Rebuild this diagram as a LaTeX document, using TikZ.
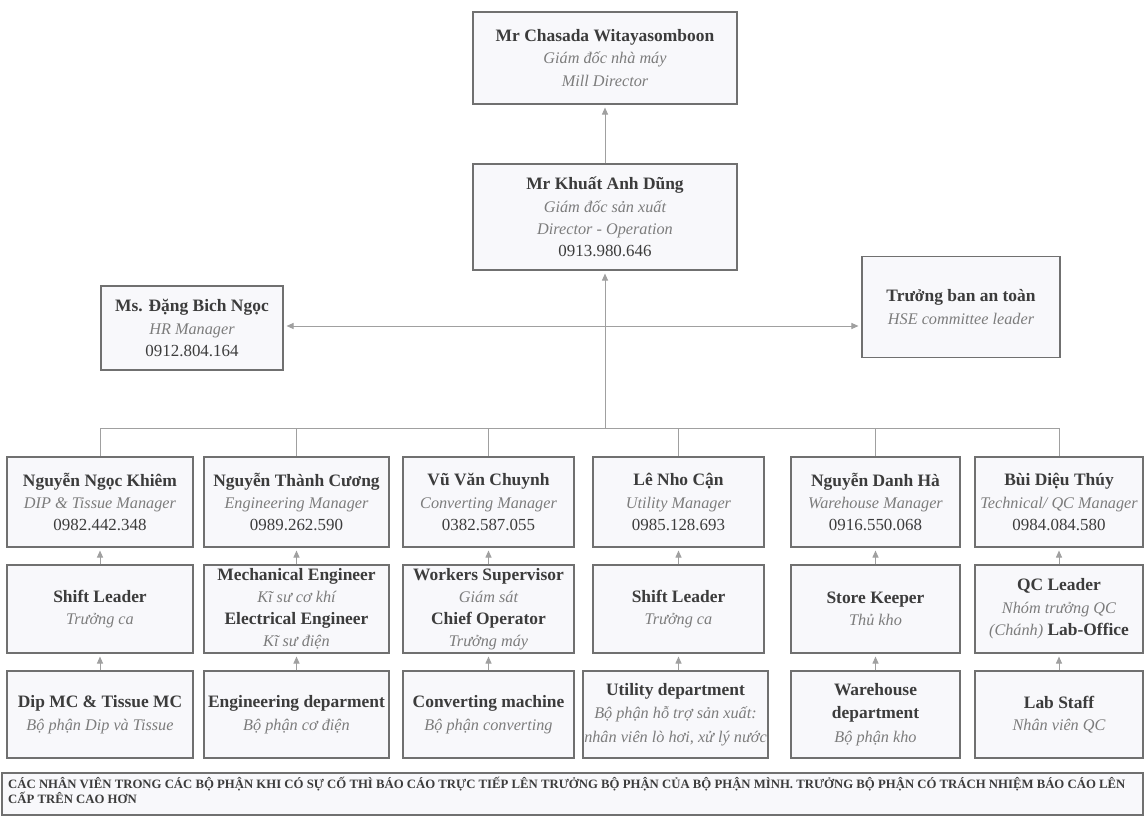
\documentclass[tikz,border=0pt]{standalone}
\usepackage{fontspec}
\setmainfont{Liberation Serif}
\usetikzlibrary{arrows.meta}
\definecolor{ink}{HTML}{3C3C3C}
\definecolor{soft}{HTML}{7C7C7C}
\definecolor{frame}{HTML}{707070}
\definecolor{wire}{HTML}{A0A0A0}
\definecolor{boxfill}{HTML}{F8F8FB}
% text roles inside the cards (the line pitch is kept from the card)
\newcommand\pname[1]{{\bfseries\color{ink}#1}}
\newcommand\prole[1]{{\fontsize{16.3}{\the\baselineskip}\selectfont\itshape\color{soft}#1}}
\newcommand\pnum[1]{{\fontsize{17}{\the\baselineskip}\selectfont\color{ink}#1}}
\tikzset{
  card/.style={draw=frame, line width=1.1bp, fill=boxfill, align=center,
    inner sep=0pt, font=\fontsize{17.5}{22.5}\selectfont},
  wirel/.style={draw=wire, line width=1bp},
  up/.style={wirel, -{Triangle[width=6bp,length=7bp]}, shorten >=3bp},
  both/.style={wirel, {Triangle[width=6bp,length=7bp]}-{Triangle[width=6bp,length=7bp]}, shorten >=3bp, shorten <=3bp},
}
\begin{document}
\begin{tikzpicture}[x=1bp,y=-1bp]
\useasboundingbox (0,0) rectangle (1145,826);
\fill[white] (0,0) rectangle (1145,826);

% --- top management
\node[card, minimum width=264bp, minimum height=92bp] (c1) at (605,58)
  {\pname{Mr Chasada Witayasomboon}\\\prole{Giám đốc nhà máy}\\\prole{Mill Director}};
\node[card, minimum width=264bp, minimum height=106bp] (c2) at (605,217)
  {\pname{Mr Khuất Anh Dũng}\\\prole{Giám đốc sản xuất}\\\prole{Director - Operation}\\\pnum{0913.980.646}};
\node[card, minimum width=182bp, minimum height=84bp] (hr) at (192,328)
  {\pname{Ms. Đặng Bich Ngọc}\\\prole{HR Manager}\\\pnum{0912.804.164}};
\node[card, minimum width=198bp, minimum height=101bp] (hse) at (961,307)
  {\pname{Trưởng ban an toàn}\\\prole{HSE committee leader}};

% --- department managers
\node[card, minimum width=186bp, minimum height=90bp] (m1) at (100,502)
  {\pname{Nguyễn Ngọc Khiêm}\\\prole{DIP \& Tissue Manager}\\\pnum{0982.442.348}};
\node[card, minimum width=185bp, minimum height=90bp] (m2) at (296.5,502)
  {\pname{Nguyễn Thành Cương}\\\prole{Engineering Manager}\\\pnum{0989.262.590}};
\node[card, minimum width=171bp, minimum height=90bp] (m3) at (488.5,502)
  {\pname{Vũ Văn Chuynh}\\\prole{Converting Manager}\\\pnum{0382.587.055}};
\node[card, minimum width=171bp, minimum height=90bp] (m4) at (678.5,502)
  {\pname{Lê Nho Cận}\\\prole{Utility Manager}\\\pnum{0985.128.693}};
\node[card, minimum width=169bp, minimum height=90bp] (m5) at (875.5,502)
  {\pname{Nguyễn Danh Hà}\\\prole{Warehouse Manager}\\\pnum{0916.550.068}};
\node[card, minimum width=168bp, minimum height=90bp] (m6) at (1059,502)
  {\pname{Bùi Diệu Thúy}\\\prole{Technical/ QC Manager}\\\pnum{0984.084.580}};

% --- supervisors
\node[card, minimum width=186bp, minimum height=88bp] (s1) at (100,609)
  {\pname{Shift Leader}\\\prole{Trưởng ca}};
\node[card, minimum width=185bp, minimum height=88bp, font=\fontsize{17.5}{22}\selectfont] (s2) at (296.5,609)
  {\pname{Mechanical Engineer}\\\prole{Kĩ sư cơ khí}\\\pname{Electrical Engineer}\\\prole{Kĩ sư điện}};
\node[card, minimum width=171bp, minimum height=88bp, font=\fontsize{17.5}{22}\selectfont] (s3) at (488.5,609)
  {\pname{Workers Supervisor}\\\prole{Giám sát}\\\pname{Chief Operator}\\\prole{Trưởng máy}};
\node[card, minimum width=171bp, minimum height=88bp] (s4) at (678.5,609)
  {\pname{Shift Leader}\\\prole{Trưởng ca}};
\node[card, minimum width=169bp, minimum height=88bp] (s5) at (875.5,609)
  {\pname{Store Keeper}\\\prole{Thủ kho}};
\node[card, minimum width=168bp, minimum height=88bp] (s6) at (1059,609)
  {\pname{QC Leader}\\\prole{Nhóm trưởng QC}\\\prole{(Chánh)} \pname{Lab-Office}};

% --- departments
\node[card, minimum width=186bp, minimum height=87bp] (d1) at (100,714.5)
  {\pname{Dip MC \& Tissue MC}\\\prole{Bộ phận Dip và Tissue}};
\node[card, minimum width=185bp, minimum height=87bp] (d2) at (296.5,714.5)
  {\pname{Engineering deparment}\\\prole{Bộ phận cơ điện}};
\node[card, minimum width=171bp, minimum height=87bp] (d3) at (488.5,714.5)
  {\pname{Converting machine}\\\prole{Bộ phận converting}};
\node[card, minimum width=185bp, minimum height=87bp, font=\fontsize{17.5}{23.5}\selectfont] (d4) at (675.5,714.5)
  {\pname{Utility department}\\\prole{Bộ phận hỗ trợ sản xuất:}\\\prole{nhân viên lò hơi, xử lý nước}};
\node[card, minimum width=169bp, minimum height=87bp, font=\fontsize{17.5}{23.5}\selectfont] (d5) at (875.5,714.5)
  {\pname{Warehouse}\\\pname{department}\\\prole{Bộ phận kho}};
\node[card, minimum width=168bp, minimum height=87bp] (d6) at (1059,714.5)
  {\pname{Lab Staff}\\\prole{Nhân viên QC}};

% --- reporting note
\node[draw=frame, line width=1.1bp, fill=boxfill, minimum width=1141bp, minimum height=42bp, inner sep=0pt] (note) at (572.5,794) {};
\node[anchor=north west, align=left, inner sep=0pt, text=ink,
      font=\bfseries\fontsize{12.8}{15}\selectfont] (notetext) at (8,777)
  {CÁC NHÂN VIÊN TRONG CÁC BỘ PHẬN KHI CÓ SỰ CỐ THÌ BÁO CÁO TRỰC TIẾP LÊN TRƯỞNG BỘ PHẬN CỦA BỘ PHẬN MÌNH. TRƯỞNG BỘ PHẬN CÓ TRÁCH NHIỆM BÁO CÁO LÊN\\CẤP TRÊN CAO HƠN};

% --- connectors
\coordinate (bus) at (605,428);
\coordinate (side) at (605,326);
\draw[up] (c2.north) -- (c1.south);
\draw[up] (bus) -- (c2.south);
\draw[both] (side -| hr.east) -- (side -| hse.west);
\draw[wirel] (m1.north |- bus) -- (m6.north |- bus);
\foreach \m in {m1,m2,m3,m4,m5,m6}
  \draw[wirel] (\m.north |- bus) -- (\m.north);
\foreach \i in {1,2,3,4,5,6} {
  \draw[up] (s\i.north) -- (m\i.south);
  \draw[up] (s\i.south |- d\i.north) -- (s\i.south);
}
\end{tikzpicture}
\end{document}
